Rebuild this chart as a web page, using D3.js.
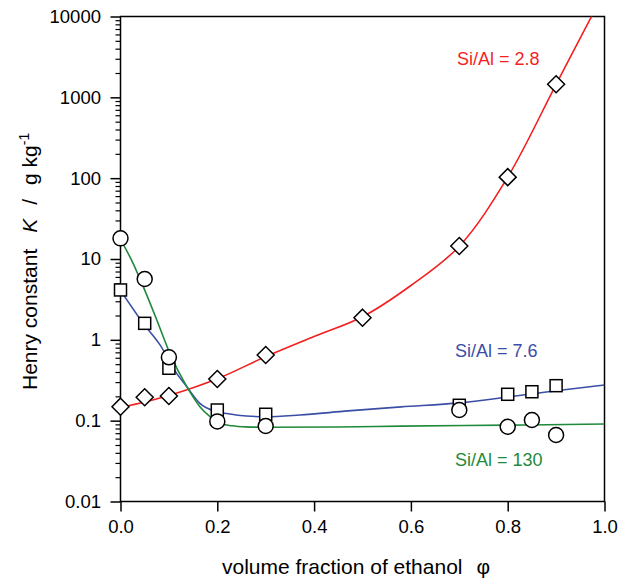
<!DOCTYPE html>
<html>
<head>
<meta charset="utf-8">
<script src="https://cdn.jsdelivr.net/npm/d3@7/dist/d3.min.js"></script>
<style>
  html, body { margin: 0; padding: 0; background: #fff; }
  svg { display: block; font-family: "Liberation Sans", Arial, sans-serif; }
</style>
</head>
<body>
<svg id="chart" width="618" height="579"></svg>
<script>
// ---- data ----
const xTicks = [0, 0.2, 0.4, 0.6, 0.8, 1.0];
const yTicks = [0.01, 0.1, 1, 10, 100, 1000, 10000];
const yTickLabels = ["0.01", "0.1", "1", "10", "100", "1000", "10000"];

// measured points
const phiRed = [0, 0.05, 0.1, 0.2, 0.3, 0.5, 0.7, 0.8, 0.9];
const kRed = [0.149, 0.195, 0.202, 0.328, 0.65, 1.88, 14.5, 103, 1450];

const phiBlue = [0, 0.05, 0.1, 0.2, 0.3, 0.7, 0.8, 0.85, 0.9];
const kBlue = [4.14, 1.6, 0.445, 0.1355, 0.12, 0.155, 0.212, 0.228, 0.271];

const phiGreen = [0, 0.05, 0.1, 0.2, 0.3, 0.7, 0.8, 0.85, 0.9];
const kGreen = [18.0, 5.66, 0.608, 0.098, 0.086, 0.1355, 0.084, 0.102, 0.0665];

// fitted curves
const fitRedPhi = [0, 0.1, 0.2, 0.3, 0.4, 0.5, 0.6, 0.7, 0.8, 0.9, 0.975];
const fitRedK = [0.145, 0.205, 0.33, 0.62, 1.1, 1.93, 4.7, 14.4, 103, 1450, 10500];

const fitBluePhi = [0, 0.047, 0.082, 0.116, 0.137, 0.164, 0.199, 0.226, 0.26, 0.3, 0.37, 0.47, 0.58, 0.7, 0.8, 0.9, 1.0];
const fitBlueK = [4.1, 1.6, 0.86, 0.385, 0.263, 0.164, 0.129, 0.121, 0.114, 0.112, 0.1175, 0.132, 0.148, 0.166, 0.196, 0.235, 0.276];

const fitGreenPhi = [0, 0.026, 0.047, 0.075, 0.102, 0.137, 0.164, 0.185, 0.206, 0.23, 0.26, 0.3, 0.45, 0.58, 0.8, 1.0];
const fitGreenK = [17.5, 8.85, 4.55, 1.76, 0.68, 0.263, 0.149, 0.112, 0.0927, 0.0865, 0.0838, 0.083, 0.0835, 0.0855, 0.088, 0.091];

const seriesLabels = ["Si/Al = 2.8", "Si/Al = 7.6", "Si/Al = 130"];
const colors = ["#f41f1f", "#3b4ea6", "#1f8a3b"];

// ---- layout ----
const svg = d3.select("#chart");
const L = 120.5, R = 604.5, T = 16.5, B = 501.5;
const x = d3.scaleLinear().domain([0, 1]).range([L, R]);
const y = d3.scaleLog().domain([0.01, 10000]).range([B, T]);

svg.append("defs").append("clipPath").attr("id", "clip")
  .append("rect").attr("x", L).attr("y", T).attr("width", R - L).attr("height", B - T);

// frame
svg.append("rect").attr("x", L).attr("y", T).attr("width", R - L).attr("height", B - T)
  .attr("fill", "none").attr("stroke", "#000").attr("stroke-width", 1.5);

// minor y ticks
const minors = [];
[0.01, 0.1, 1, 10, 100, 1000].forEach(d => { for (let m = 2; m <= 9; m++) minors.push(d * m); });
const yMinor = svg.append("g").attr("transform", `translate(${L},0)`)
  .call(d3.axisLeft(y).tickValues(minors).tickSize(5).tickFormat(""));
yMinor.select(".domain").remove();
yMinor.selectAll("line").attr("stroke-width", 1.2);

const yAxis = svg.append("g").attr("transform", `translate(${L},0)`)
  .call(d3.axisLeft(y).tickValues(yTicks).tickSize(10).tickPadding(9.5)
    .tickFormat((d, i) => yTickLabels[i]));
yAxis.select(".domain").remove();
yAxis.selectAll("line").attr("stroke-width", 1.5);
yAxis.selectAll("text").attr("font-size", 18.5).attr("fill", "#000")
  .attr("font-family", "Liberation Sans, Arial, sans-serif");

const xAxis = svg.append("g").attr("transform", `translate(0,${B})`)
  .call(d3.axisBottom(x).tickValues(xTicks).tickSize(10).tickPadding(8).tickFormat(d3.format(".1f")));
xAxis.select(".domain").remove();
xAxis.selectAll("line").attr("stroke-width", 1.5);
xAxis.selectAll("text").attr("font-size", 18.5).attr("fill", "#000")
  .attr("font-family", "Liberation Sans, Arial, sans-serif");

// curves
const lineSmooth = d3.line().x(d => x(d[0])).y(d => y(d[1])).curve(d3.curveCatmullRom.alpha(0.5));
const lineMono = d3.line().x(d => x(d[0])).y(d => y(d[1])).curve(d3.curveMonotoneX);
const fits = [
  d3.zip(fitRedPhi, fitRedK),
  d3.zip(fitBluePhi, fitBlueK),
  d3.zip(fitGreenPhi, fitGreenK)
];
const gCurves = svg.append("g").attr("clip-path", "url(#clip)");
fits.forEach((f, i) => {
  gCurves.append("path").attr("d", (i === 0 ? lineSmooth : lineMono)(f)).attr("fill", "none")
    .attr("stroke", colors[i]).attr("stroke-width", 1.6);
});

// markers
const gm = svg.append("g");
gm.selectAll(".dia").data(d3.zip(phiRed, kRed)).join("path")
  .attr("d", d => { const cx = x(d[0]), cy = y(d[1]), s = 8.5;
    return `M${cx},${cy - s}L${cx + s},${cy}L${cx},${cy + s}L${cx - s},${cy}Z`; })
  .attr("fill", "#fff").attr("stroke", "#000").attr("stroke-width", 1.5);
gm.selectAll(".sq").data(d3.zip(phiBlue, kBlue)).join("rect")
  .attr("x", d => x(d[0]) - 6).attr("y", d => y(d[1]) - 6)
  .attr("width", 12).attr("height", 12)
  .attr("fill", "#fff").attr("stroke", "#000").attr("stroke-width", 1.5);
gm.selectAll(".circ").data(d3.zip(phiGreen, kGreen)).join("circle")
  .attr("cx", d => x(d[0])).attr("cy", d => y(d[1])).attr("r", 7.5)
  .attr("fill", "#fff").attr("stroke", "#000").attr("stroke-width", 1.5);

// series labels
const labelPos = [[457, 65], [455, 357], [455, 466]];
seriesLabels.forEach((t, i) => {
  svg.append("text").attr("x", labelPos[i][0]).attr("y", labelPos[i][1])
    .attr("font-size", 18).attr("fill", colors[i]).text(t);
});

// axis titles
const xt = svg.append("text").attr("x", 222).attr("y", 574).attr("font-size", 21).attr("fill", "#000");
xt.append("tspan").text("volume fraction of ethanol");
xt.append("tspan").attr("dx", 14).text("φ");

const yt = svg.append("text").attr("transform", "translate(37,390) rotate(-90)")
  .attr("font-size", 21).attr("fill", "#000");
yt.append("tspan").text("Henry constant");
yt.append("tspan").attr("dx", 16).attr("font-style", "italic").text("K");
yt.append("tspan").attr("dx", 14).text("/");
yt.append("tspan").attr("dx", 14).text("g kg");
yt.append("tspan").attr("dy", -8).attr("font-size", 14).text("-1");
</script>
</body>
</html>
